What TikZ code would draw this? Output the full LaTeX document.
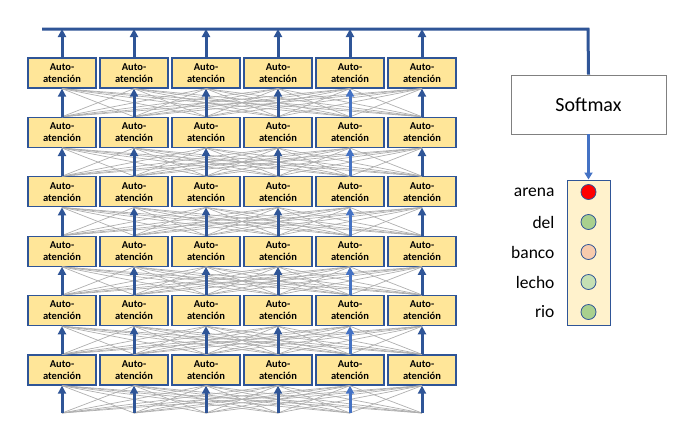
\documentclass[tikz,border=0pt]{standalone}
\usepackage{fontspec}
\setmainfont{Carlito}
\usetikzlibrary{arrows.meta}
\definecolor{azul}{RGB}{47,85,151}
\definecolor{azulclaro}{RGB}{68,114,196}
\definecolor{oro}{RGB}{255,230,153}
\definecolor{crema}{RGB}{255,242,204}
\definecolor{gris}{RGB}{175,175,175}
\definecolor{verde}{RGB}{169,208,142}
\definecolor{verdeclaro}{RGB}{197,224,180}
\definecolor{salmon}{RGB}{248,203,173}
\begin{document}
\begin{tikzpicture}[x=1pt,y=-1pt]
\def\colsep{72}
\def\rowsep{59.4}
\tikzset{att/.style={draw=azul,line width=1.3pt,fill=oro,minimum width=68pt,minimum height=30pt,
inner sep=0pt,align=center,font=\fontsize{10.5}{12}\selectfont\bfseries},
up/.style={line width=3pt,-{Triangle[width=8pt,length=8pt]}},
link/.style={draw=gris,line width=0.7pt},
word/.style={anchor=east,font=\fontsize{17.5}{19}\selectfont},
dot/.style={circle,draw=azul,line width=0.8pt,minimum size=15pt,inner sep=0pt}}
\useasboundingbox (0,0) rectangle (688,426);
% bloques de auto-atencion
\foreach \r in {1,...,6}
  \foreach \c in {1,...,6}
    \node[att] (A-\r-\c) at ({62+(\c-1)*\colsep},{73+(\r-1)*\rowsep}) {Auto-\\atención};
% entradas y salida superior
\foreach \c in {1,...,6} {
  \coordinate (IN-\c) at ({62+(\c-1)*\colsep},413);
  \coordinate (OUT-\c) at ({62+(\c-1)*\colsep},29);
}
\coordinate (TL) at (42,29);
\coordinate (TR) at (588,29);
% conexiones completas
\foreach \c in {1,...,6}
  \foreach \d in {1,...,6} {
    \ifnum\c=\d\else
    \draw[link] (IN-\c) -- (A-6-\d.south);
    \foreach \r [evaluate=\r as \s using int(\r+1)] in {1,...,5}
      \draw[link] (A-\s-\c.north) -- (A-\r-\d.south);
    \fi
  }
% flechas verticales
\foreach \c/\col in {1/azul,2/azul,3/azul,4/azul,5/azulclaro,6/azul} {
  \draw[up,\col] (IN-\c) -- (A-6-\c.south);
  \foreach \r [evaluate=\r as \s using int(\r+1)] in {1,...,5}
    \draw[up,\col] (A-\s-\c.north) -- (A-\r-\c.south);
  \draw[up,azul] (A-1-\c.north) -- (OUT-\c);
}
% softmax
\node[draw=gray,line width=0.8pt,minimum width=155pt,minimum height=59pt,
  font=\fontsize{20}{22}\selectfont] (SM) at (588.5,104.5) {Softmax};
\draw[azul,line width=3pt] (TL) -- (TR) -- (SM.north);
\node[draw=azul,line width=1pt,fill=crema,minimum width=43pt,minimum height=145pt] (VOC) at (588.5,252.5) {};
\draw[azulclaro,line width=2.4pt,-{Triangle[width=8pt,length=7pt]}] (SM.south) -- (VOC.north);
\foreach \i/\w/\f in {1/arena/red,2/del/verde,3/banco/salmon,4/lecho/verdeclaro,5/rio/verde} {
  \node[dot,fill=\f] (P-\i) at (588.5,{192+(\i-1)*30}) {};
  \node[word] (W-\i) at (558,{192+(\i-1)*30}) {\w};
}
\end{tikzpicture}
\end{document}
